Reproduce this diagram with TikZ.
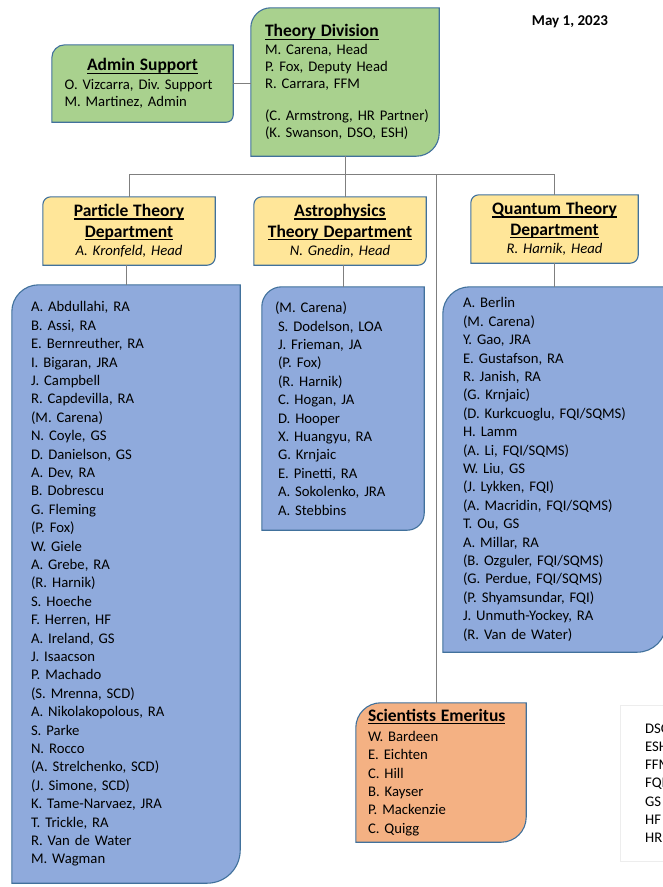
\documentclass[tikz,border=0pt]{standalone}
\usepackage{fontspec}
\setmainfont{Carlito}
\usetikzlibrary{positioning, backgrounds}

\definecolor{divgreen}{HTML}{A9D18E}
\definecolor{deptyellow}{HTML}{FFE699}
\definecolor{staffblue}{HTML}{8FAADC}
\definecolor{emerorange}{HTML}{F4B183}
\definecolor{boxline}{HTML}{41719C}
\definecolor{linkgray}{HTML}{7F7F7F}

\newsavebox{\titlebox}
\newcommand{\unittitle}[1]{\leavevmode{\fontsize{17.5}{21}\selectfont\bfseries
	\sbox{\titlebox}{#1}\rlap{\rule[-3pt]{\wd\titlebox}{1.1pt}}\usebox{\titlebox}}}

\begin{document}
\frenchspacing
\begin{tikzpicture}[x=1pt, y=-1pt]
	\tikzset{every node/.style={inner sep=0pt, font=\fontsize{14.7}{18.4}\selectfont},
		staffbox/.style={align=left},
		deptbox/.style={align=center, minimum width=#1, text width=#1, minimum height=68pt},
		orgline/.style={draw=linkgray, line width=1pt}}
	
	\useasboundingbox (0,0) rectangle (663,887);
	\clip (0,0) rectangle (663,887);
	
	\node[font=\fontsize{15}{18}\selectfont\bfseries] (date) at (570,22) {May 1, 2023};
	
	% division level
	\node[staffbox, font=\fontsize{14.7}{17}\selectfont, minimum width=181pt, minimum height=77pt, text width=156pt] (admin) at (142.5,83.5)
		{\makebox[\linewidth]{\unittitle{Admin Support}}\\[2pt]
		\mbox{O. Vizcarra, Div. Support}\\ M. Martinez, Admin};
	\node[staffbox, font=\fontsize{14.7}{17}\selectfont, minimum width=188pt, minimum height=148pt, text width=160pt] (theory) at (345,82)
		{\unittitle{Theory Division}\\[1pt]
		M. Carena, Head\\ P. Fox, Deputy Head\\ R. Carrara, FFM\\[15pt]
		\mbox{(C. Armstrong, HR Partner)}\\ \mbox{(K. Swanson, DSO, ESH)}};
	
	% departments
	\node[deptbox=172pt] (particle) at (129,231) {\unittitle{Particle Theory}\\[2.5pt] \unittitle{Department}\\ \textit{A. Kronfeld, Head}};
	\node[deptbox=172pt] (astro) at (340,231) {\unittitle{Astrophysics}\\[2.5pt] \unittitle{Theory Department}\\ \textit{N. Gnedin, Head}};
	\node[deptbox=167pt] (quantum) at (554.5,229) {\unittitle{Quantum Theory}\\[2.5pt] \unittitle{Department}\\ \textit{R. Harnik, Head}};
	
	% staff lists
	\node[staffbox, minimum width=228pt, minimum height=598pt, text width=190pt] (partlist) at (126,584)
		{A. Abdullahi, RA\\ B. Assi, RA\\ E. Bernreuther, RA\\ I. Bigaran, JRA\\ J. Campbell\\
		R. Capdevilla, RA\\ (M. Carena)\\ N. Coyle, GS\\ D. Danielson, GS\\ A. Dev, RA\\
		B. Dobrescu\\ G. Fleming\\ (P. Fox)\\ W. Giele\\ A. Grebe, RA\\ (R. Harnik)\\
		S. Hoeche\\ F. Herren, HF\\ A. Ireland, GS\\ J. Isaacson\\ P. Machado\\
		(S. Mrenna, SCD)\\ A. Nikolakopolous, RA\\ S. Parke\\ N. Rocco\\
		(A. Strelchenko, SCD)\\ (J. Simone, SCD)\\ K. Tame-Narvaez, JRA\\ T. Trickle, RA\\
		R. Van de Water\\ M. Wagman};
	\node[staffbox, minimum width=162pt, minimum height=243pt, text width=130pt] (astrolist) at (343,408.5)
		{\hspace*{-3pt}(M. Carena)\\ S. Dodelson, LOA\\ J. Frieman, JA\\ (P. Fox)\\ (R. Harnik)\\
		C. Hogan, JA\\ D. Hooper\\ X. Huangyu, RA\\ G. Krnjaic\\ E. Pinetti, RA\\
		A. Sokolenko, JRA\\ A. Stebbins};
	\node[staffbox, minimum width=223pt, minimum height=365pt, text width=183pt] (quantlist) at (554.5,469.5)
		{A. Berlin\\ (M. Carena)\\ Y. Gao, JRA\\ E. Gustafson, RA\\ R. Janish, RA\\ (G. Krnjaic)\\
		(D. Kurkcuoglu, FQI/SQMS)\\ H. Lamm\\ (A. Li, FQI/SQMS)\\ W. Liu, GS\\ (J. Lykken, FQI)\\
		(A. Macridin, FQI/SQMS)\\ T. Ou, GS\\ A. Millar, RA\\ (B. Ozguler, FQI/SQMS)\\
		(G. Perdue, FQI/SQMS)\\ (P. Shyamsundar, FQI)\\ J. Unmuth-Yockey, RA\\ (R. Van de Water)};
	\node[staffbox, minimum width=170pt, minimum height=139pt, text width=146pt] (emeritus) at (441,772.5)
		{\unittitle{Scientists Emeritus}\\[1.6pt] W. Bardeen\\ E. Eichten\\ C. Hill\\ B. Kayser\\ P. Mackenzie\\ C. Quigg};
	
	\node[staffbox, font=\fontsize{14.7}{18.2}\selectfont, draw=black!7, anchor=north west, minimum height=156pt, text width=120pt, inner xsep=25pt] (legend) at (620,705)
		{DSO\\ ESH\\ FFM\\ FQI\\ GS\\ HF\\ HR};
	
	% connectors
	\coordinate (bus) at (0,174);
	\coordinate (emline) at (436,174);
	\draw[orgline] (admin.east) -- (admin.east -| theory.west);
	\draw[orgline] (theory.south) -- (theory.south |- astro.north);
	\draw[orgline] (particle.north |- bus) -- (quantum.north |- bus);
	\draw[orgline] (particle.north |- bus) -- (particle.north);
	\draw[orgline] (quantum.north |- bus) -- (quantum.north);
	\draw[orgline] (emline) -- (emline |- emeritus.north);
	\foreach \dp/\ls in {particle/partlist, astro/astrolist, quantum/quantlist}
		\draw[orgline] (\ls.north |- \dp.south) -- (\ls.north);
	
	% box outlines, rounded top left and bottom right
	\begin{pgfonlayer}{background}
		\clip (0,0) rectangle (663,887);
		\foreach \bx/\col/\ra/\rb in {admin/divgreen/13/7, theory/divgreen/20/23,
				particle/deptyellow/8/8, astro/deptyellow/8/8, quantum/deptyellow/8/8,
				partlist/staffblue/27/33, astrolist/staffblue/20/17, quantlist/staffblue/27/29,
				emeritus/emerorange/25/25}
			\draw[draw=boxline, line width=1.1pt, fill=\col]
				([yshift=-\ra pt]\bx.north west) arc[start angle=180, end angle=90, radius=\ra pt]
				-- (\bx.north east) -- ([yshift=\rb pt]\bx.south east)
				arc[start angle=0, end angle=-90, radius=\rb pt] -- (\bx.south west) -- cycle;
	\end{pgfonlayer}
\end{tikzpicture}
\end{document}
